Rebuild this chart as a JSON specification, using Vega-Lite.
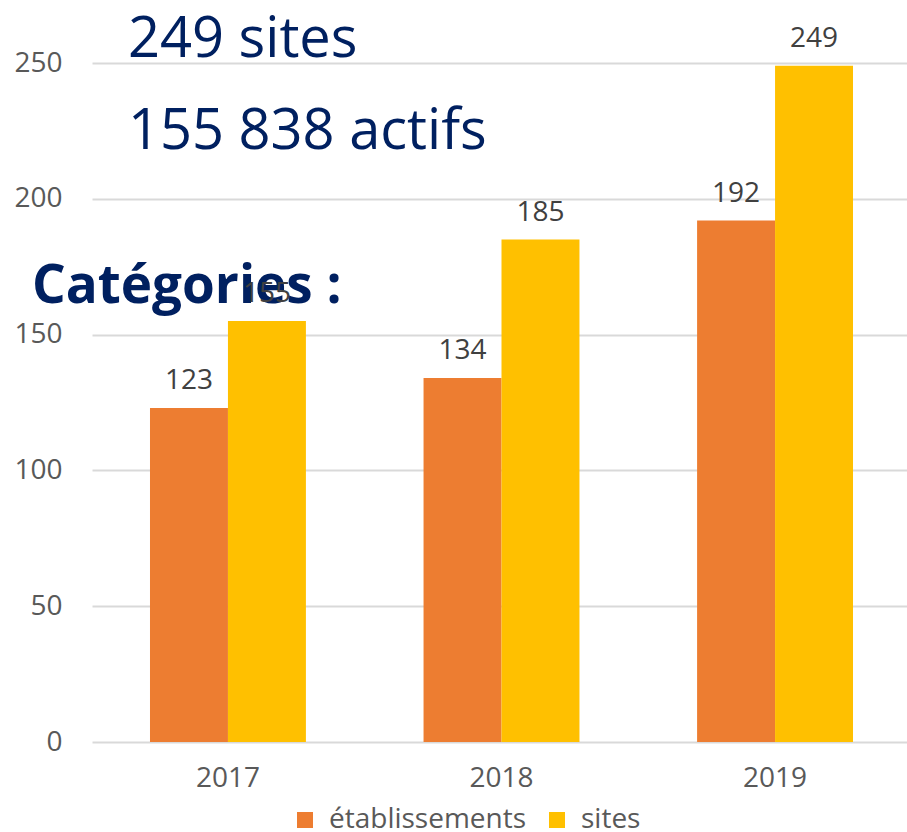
{
  "$schema": "https://vega.github.io/schema/vega-lite/v6.json",
  "width": 819,
  "height": 679,
  "autosize": "none",
  "padding": {"left": 92, "top": 63, "right": 0, "bottom": 90},
  "background": "white",
  "config": {"view": {"stroke": null}, "font": "Open Sans"},
  "data": {"values": [
    {"annee": "2017", "serie": "établissements", "valeur": 123},
    {"annee": "2017", "serie": "sites", "valeur": 155},
    {"annee": "2018", "serie": "établissements", "valeur": 134},
    {"annee": "2018", "serie": "sites", "valeur": 185},
    {"annee": "2019", "serie": "établissements", "valeur": 192},
    {"annee": "2019", "serie": "sites", "valeur": 249}
  ]},
  "layer": [
    {
      "mark": {"type": "bar"},
      "encoding": {
        "x": {"field": "annee", "type": "nominal", "title": null,
          "scale": {"paddingInner": 0.43, "paddingOuter": 0.212},
          "axis": {"labelAngle": 0, "domain": false, "ticks": false, "labelFontSize": 28, "labelColor": "#595959", "labelPadding": 22, "labelFont": "Open Sans"}},
        "xOffset": {"field": "serie", "type": "nominal", "sort": ["établissements", "sites"]},
        "y": {"field": "valeur", "type": "quantitative", "title": null,
          "scale": {"domain": [0, 250], "nice": false},
          "axis": {"values": [0, 50, 100, 150, 200, 250], "domain": false, "ticks": false, "gridColor": "#D9D9D9", "gridWidth": 2, "labelFontSize": 28, "labelColor": "#595959", "labelPadding": 30, "labelFont": "Open Sans"}},
        "color": {"field": "serie", "type": "nominal", "title": null,
          "scale": {"domain": ["établissements", "sites"], "range": ["#ED7D31", "#FFC000"]},
          "legend": {"orient": "none", "legendX": 199, "legendY": 743, "direction": "horizontal", "symbolType": "square", "symbolSize": 256, "symbolStrokeWidth": 0, "symbolOpacity": 1, "labelFontSize": 28, "labelColor": "#595959", "labelFont": "Open Sans", "labelOffset": 10, "labelLimit": 400, "columnPadding": 16}}
      }
    },
    {
      "data": {"values": [{"label": "249 sites", "pos": 252.2}, {"label": "155 838 actifs", "pos": 218.3}]},
      "mark": {"type": "text", "fontSize": 56, "color": "#002060", "align": "left", "baseline": "alphabetic", "dx": -100, "font": "Open Sans"},
      "encoding": {"x": {"datum": "2017"}, "y": {"field": "pos", "type": "quantitative"}, "text": {"field": "label", "type": "nominal"}}
    },
    {
      "data": {"values": [{"label": "Catégories :", "pos": 161.6}]},
      "mark": {"type": "text", "fontSize": 53, "fontWeight": "bold", "color": "#002060", "align": "left", "baseline": "alphabetic", "dx": -196, "font": "Open Sans"},
      "encoding": {"x": {"datum": "2017"}, "y": {"field": "pos", "type": "quantitative"}, "text": {"field": "label", "type": "nominal"}}
    },
    {
      "mark": {"type": "text", "fontSize": 28, "color": "#404040", "baseline": "alphabetic", "dy": -19, "font": "Open Sans"},
      "encoding": {
        "x": {"field": "annee", "type": "nominal"},
        "xOffset": {"field": "serie", "type": "nominal", "sort": ["établissements", "sites"]},
        "y": {"field": "valeur", "type": "quantitative"},
        "text": {"field": "valeur", "type": "quantitative"}
      }
    }
  ]
}
